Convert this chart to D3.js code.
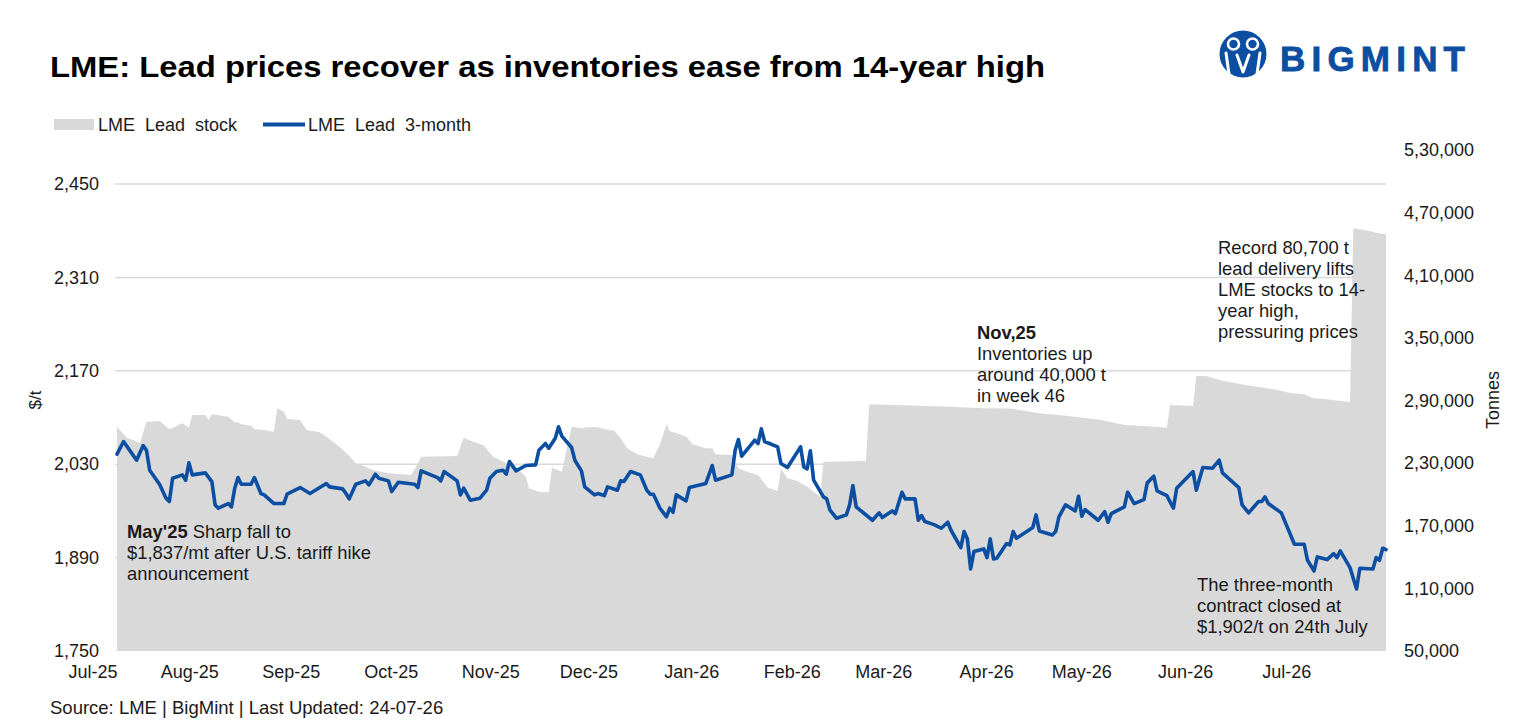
<!DOCTYPE html>
<html>
<head>
<meta charset="utf-8">
<script src="https://cdn.jsdelivr.net/npm/d3@7"></script>
<style>
  html, body { margin: 0; padding: 0; background: #ffffff; }
  svg { display: block; font-family: "Liberation Sans", Arial, sans-serif; }
</style>
</head>
<body>
<svg id="chart" width="1523" height="724"></svg>
<script>
// ---------------- DATA ----------------
const priceDates = [
  "2025-07-01","2025-07-03","2025-07-05","2025-07-07","2025-07-09","2025-07-10","2025-07-11","2025-07-14","2025-07-16","2025-07-17",
  "2025-07-18","2025-07-21","2025-07-22","2025-07-23","2025-07-24","2025-07-28","2025-07-30","2025-07-31","2025-08-01","2025-08-04",
  "2025-08-05","2025-08-06","2025-08-07","2025-08-08","2025-08-11","2025-08-12","2025-08-14","2025-08-15","2025-08-18","2025-08-21",
  "2025-08-22","2025-08-26","2025-08-29","2025-09-01","2025-09-03","2025-09-04","2025-09-08","2025-09-09","2025-09-10","2025-09-12",
  "2025-09-15","2025-09-16","2025-09-18","2025-09-19","2025-09-22","2025-09-23","2025-09-25","2025-09-30","2025-10-01","2025-10-02",
  "2025-10-07","2025-10-08","2025-10-09","2025-10-13","2025-10-14","2025-10-15","2025-10-17","2025-10-20","2025-10-22","2025-10-23",
  "2025-10-25","2025-10-27","2025-10-28","2025-10-29","2025-10-31","2025-11-03","2025-11-06","2025-11-07","2025-11-09","2025-11-10",
  "2025-11-12","2025-11-13","2025-11-14","2025-11-17","2025-11-18","2025-11-20","2025-11-21","2025-11-24","2025-11-25","2025-11-27",
  "2025-11-28","2025-12-01","2025-12-02","2025-12-03","2025-12-05","2025-12-08","2025-12-10","2025-12-11","2025-12-12","2025-12-14",
  "2025-12-16","2025-12-17","2025-12-18","2025-12-19","2025-12-22","2025-12-23","2025-12-28","2025-12-30","2025-12-31","2026-01-05",
  "2026-01-06","2026-01-07","2026-01-08","2026-01-12","2026-01-13","2026-01-14","2026-01-15","2026-01-19","2026-01-20","2026-01-22",
  "2026-01-26","2026-01-27","2026-01-28","2026-01-29","2026-01-30","2026-02-02","2026-02-03","2026-02-04","2026-02-06","2026-02-09",
  "2026-02-10","2026-02-11","2026-02-12","2026-02-17","2026-02-19","2026-02-20","2026-02-23","2026-02-24","2026-02-26","2026-02-27",
  "2026-03-02","2026-03-03","2026-03-04","2026-03-05","2026-03-08","2026-03-10","2026-03-12","2026-03-13","2026-03-16","2026-03-17",
  "2026-03-18","2026-03-19","2026-03-20","2026-03-23","2026-03-24","2026-03-25","2026-03-26","2026-03-27","2026-03-30","2026-03-31",
  "2026-04-01","2026-04-02","2026-04-07","2026-04-08","2026-04-09","2026-04-13","2026-04-14","2026-04-15","2026-04-17","2026-04-20",
  "2026-04-21","2026-04-22","2026-04-23","2026-04-27","2026-04-29","2026-04-30","2026-05-01","2026-05-05","2026-05-06","2026-05-08",
  "2026-05-11","2026-05-12","2026-05-14","2026-05-15","2026-05-18","2026-05-20","2026-05-21","2026-05-23","2026-05-26","2026-05-27",
  "2026-05-29","2026-06-01","2026-06-03","2026-06-04","2026-06-09","2026-06-10","2026-06-12","2026-06-15","2026-06-16","2026-06-17",
  "2026-06-18","2026-06-22","2026-06-26","2026-06-29","2026-06-30","2026-07-02","2026-07-03","2026-07-06","2026-07-08","2026-07-09",
  "2026-07-10","2026-07-13","2026-07-15","2026-07-16","2026-07-20","2026-07-21","2026-07-22","2026-07-23","2026-07-24"
];
const priceValues = [
  2045,2064,2050,2036,2058,2051,2021,2000,1979,1974,
  2009,2014,2006,2032,2014,2017,2004,1969,1964,1971,
  1966,1994,2010,2000,2000,2010,1986,1984,1971,1971,
  1985,1995,1986,1995,2001,1996,1993,1986,1978,2000,
  2005,1999,2015,2009,2005,1989,2003,2000,1995,2020,
  2010,2005,2019,2005,1984,1994,1976,1979,1991,2009,
  2019,2021,2015,2034,2020,2028,2029,2051,2061,2054,
  2069,2086,2072,2055,2036,2020,1996,1984,1986,1983,
  1996,1991,2005,2004,2019,2014,1991,1985,1985,1964,
  1951,1964,1958,1984,1975,1995,2001,2028,2006,2014,
  2051,2067,2042,2066,2061,2083,2064,2056,2031,2025,
  2056,2026,2023,2050,2006,1981,1978,1961,1949,1954,
  1969,1998,1966,1946,1957,1950,1960,1956,1988,1978,
  1978,1946,1953,1944,1939,1934,1943,1931,1905,1929,
  1918,1873,1899,1903,1890,1918,1888,1889,1911,1909,
  1929,1919,1935,1954,1930,1924,1929,1951,1969,1960,
  1982,1952,1962,1946,1959,1943,1956,1966,1988,1971,
  1977,2002,2012,1990,1983,1964,1994,2004,2019,1991,
  2025,2024,2036,2017,1995,1969,1957,1974,1974,1981,
  1971,1957,1910,1910,1886,1870,1891,1887,1896,1890,
  1900,1875,1843,1874,1873,1890,1886,1904,1902
];

const stockDates = [
  "2025-07-01","2025-07-04","2025-07-06","2025-07-08","2025-07-10","2025-07-14","2025-07-17","2025-07-21","2025-07-23","2025-07-24",
  "2025-07-28","2025-07-29","2025-07-30","2025-08-04","2025-08-06","2025-08-07","2025-08-08","2025-08-11","2025-08-12","2025-08-15",
  "2025-08-18","2025-08-19","2025-08-21","2025-08-22","2025-08-26","2025-08-28","2025-09-01","2025-09-03","2025-09-07","2025-09-10",
  "2025-09-12","2025-09-15","2025-09-17","2025-09-22","2025-09-29","2025-10-01","2025-10-02","2025-10-13","2025-10-15","2025-10-18",
  "2025-10-21","2025-10-24","2025-10-27","2025-10-31","2025-11-03","2025-11-04","2025-11-07","2025-11-10","2025-11-11","2025-11-14",
  "2025-11-17","2025-11-20","2025-11-22","2025-11-25","2025-11-27","2025-11-30","2025-12-02","2025-12-04","2025-12-07","2025-12-10",
  "2025-12-12","2025-12-14","2025-12-16","2025-12-17","2025-12-20","2025-12-22","2025-12-24","2025-12-28","2025-12-30","2025-12-31",
  "2026-01-05","2026-01-07","2026-01-10","2026-01-13","2026-01-16","2026-01-19","2026-01-20","2026-01-22","2026-01-25","2026-01-28",
  "2026-02-01","2026-02-02","2026-02-15","2026-02-16","2026-03-13","2026-03-23","2026-03-31","2026-04-09","2026-04-15","2026-04-21",
  "2026-04-28","2026-05-05","2026-05-11","2026-05-18","2026-05-19","2026-05-26","2026-05-27","2026-05-30","2026-06-04","2026-06-11",
  "2026-06-21","2026-06-25","2026-06-29","2026-07-02","2026-07-06","2026-07-12","2026-07-13","2026-07-14","2026-07-20","2026-07-21",
  "2026-07-24"
];
const stockValues = [
  264600,254400,252200,249000,269700,270400,262400,268200,263900,276100,
  276100,271300,276800,274500,269100,269100,267200,265900,262400,261700,
  260100,282500,279300,272300,271300,261700,259500,255300,245700,237100,
  229800,226600,223400,220300,218600,229800,236200,236800,254400,250500,
  247400,236200,231400,226600,217000,205900,202600,202100,225600,221800,
  264900,263400,264300,264300,262400,261100,253800,244200,238500,236200,
  234600,248000,267200,260800,257600,255300,248000,244200,244200,238500,
  237800,225000,221200,218600,206500,203300,224400,215500,212900,207400,
  197800,231400,232000,286400,284100,282500,282300,277700,276100,273900,
  271300,266500,265600,263900,285700,284700,313500,313500,309000,304900,
  300100,296900,295900,292100,291200,288900,288900,455000,451700,450500,
  449200
];

const leftTicks  = [1750, 1890, 2030, 2170, 2310, 2450];
const rightTicks = [50000, 110000, 170000, 230000, 290000, 350000, 410000, 470000, 530000];
const xTickDates  = ["2025-07-01","2025-08-01","2025-09-01","2025-10-01","2025-11-01","2025-12-01","2026-01-01",
                     "2026-02-01","2026-03-01","2026-04-01","2026-05-01","2026-06-01","2026-07-01"];
const xTickLabels = ["Jul-25","Aug-25","Sep-25","Oct-25","Nov-25","Dec-25","Jan-26",
                     "Feb-26","Mar-26","Apr-26","May-26","Jun-26","Jul-26"];

const seriesNames = ["LME Lead stock", "LME Lead 3-month"];
const titleText  = "LME: Lead prices recover as inventories ease from 14-year high";
const sourceText = "Source: LME | BigMint | Last Updated: 24-07-26";

// ---------------- SETUP ----------------
const parse = d3.timeParse("%Y-%m-%d");
const price = priceDates.map((d, i) => ({ date: parse(d), value: priceValues[i] }));
const stock = stockDates.map((d, i) => ({ date: parse(d), value: stockValues[i] }));

const COL_LINE = "#0b4ea2";
const COL_AREA = "#d9d9d9";
const COL_TEXT = "#1a1a1a";

const svg = d3.select("#chart");

const x = d3.scaleTime()
  .domain([parse("2025-07-01"), parse("2026-07-24")])
  .range([117, 1386]);
const yL = d3.scaleLinear().domain([1750, 2450]).range([651, 184]);
const yR = d3.scaleLinear().domain([50000, 530000]).range([651, 150]);

const indian = d3.formatLocale({ decimal: ".", thousands: ",", grouping: [3, 2], currency: ["", ""] });
const fmtR = indian.format(",");
const fmtL = d3.format(",");

// ---------------- TITLE ----------------
svg.append("text")
  .attr("x", 50).attr("y", 77)
  .attr("font-size", 29).attr("font-weight", "bold")
  .attr("fill", "#000")
  .attr("textLength", 995).attr("lengthAdjust", "spacingAndGlyphs")
  .text(titleText);

// ---------------- LOGO ----------------
const logo = svg.append("g");
logo.append("circle").attr("cx", 1243).attr("cy", 54).attr("r", 23.5).attr("fill", COL_LINE);
logo.append("circle").attr("cx", 1233.5).attr("cy", 44).attr("r", 5.5)
  .attr("fill", COL_LINE).attr("stroke", "#fff").attr("stroke-width", 2.6);
logo.append("circle").attr("cx", 1252.5).attr("cy", 44).attr("r", 5.5)
  .attr("fill", COL_LINE).attr("stroke", "#fff").attr("stroke-width", 2.6);
logo.append("path")
  .attr("d", "M1226,53 L1229,74 M1237,55 L1243,72 L1249,55 M1260,53 L1257,74")
  .attr("fill", "none").attr("stroke", "#fff").attr("stroke-width", 3).attr("stroke-linecap", "round").attr("stroke-linejoin", "round");
logo.append("text")
  .attr("x", 1280).attr("y", 71)
  .attr("font-size", 35).attr("font-weight", "bold")
  .attr("fill", COL_LINE).attr("stroke", COL_LINE).attr("stroke-width", 0.8)
  .attr("textLength", 185).attr("lengthAdjust", "spacing")
  .text("BIGMINT");

// ---------------- LEGEND ----------------
const legend = svg.append("g").attr("font-size", 18).attr("fill", COL_TEXT).attr("word-spacing", 5);
legend.append("rect").attr("x", 54).attr("y", 119).attr("width", 40).attr("height", 11).attr("fill", COL_AREA);
legend.append("text").attr("x", 98).attr("y", 124.5).attr("dominant-baseline", "central").text(seriesNames[0]);
legend.append("line").attr("x1", 263).attr("x2", 305).attr("y1", 124.5).attr("y2", 124.5)
  .attr("stroke", COL_LINE).attr("stroke-width", 4);
legend.append("text").attr("x", 308).attr("y", 124.5).attr("dominant-baseline", "central").text(seriesNames[1]);

// ---------------- GRIDLINES ----------------
svg.append("g")
  .selectAll("line")
  .data(leftTicks.filter(t => t !== 1750))
  .join("line")
  .attr("x1", 115).attr("x2", 1386)
  .attr("y1", d => yL(d)).attr("y2", d => yL(d))
  .attr("stroke", "#d9d9d9").attr("stroke-width", 1.5);

// ---------------- AREA (stock, right axis) ----------------
const area = d3.area()
  .x(d => x(d.date))
  .y0(yR(50000))
  .y1(d => yR(d.value));
svg.append("path").datum(stock).attr("d", area).attr("fill", COL_AREA);

// ---------------- LINE (price, left axis) ----------------
const line = d3.line()
  .x(d => x(d.date))
  .y(d => yL(d.value));
svg.append("path").datum(price).attr("d", line)
  .attr("fill", "none").attr("stroke", COL_LINE).attr("stroke-width", 3.6)
  .attr("stroke-linejoin", "round").attr("stroke-linecap", "round");

// ---------------- AXES ----------------
const gx = svg.append("g")
  .attr("transform", "translate(0,651)")
  .call(d3.axisBottom(x).tickValues(xTickDates.map(parse))
        .tickFormat((d, i) => xTickLabels[i]).tickSize(0).tickPadding(14));
gx.select(".domain").remove();
gx.selectAll("text").attr("text-anchor", "end").attr("font-size", 18)
  .attr("font-family", "'Liberation Sans', Arial, sans-serif").attr("fill", COL_TEXT);

const gl = svg.append("g")
  .attr("transform", "translate(117,0)")
  .call(d3.axisLeft(yL).tickValues(leftTicks).tickFormat(fmtL).tickSize(0).tickPadding(18));
gl.select(".domain").remove();
gl.selectAll("text").attr("font-size", 18)
  .attr("font-family", "'Liberation Sans', Arial, sans-serif").attr("fill", COL_TEXT);

const gr = svg.append("g")
  .attr("transform", "translate(1386,0)")
  .call(d3.axisRight(yR).tickValues(rightTicks).tickFormat(fmtR).tickSize(0).tickPadding(18));
gr.select(".domain").remove();
gr.selectAll("text").attr("font-size", 18)
  .attr("font-family", "'Liberation Sans', Arial, sans-serif").attr("fill", COL_TEXT);

// axis titles
svg.append("text")
  .attr("transform", "translate(41,400) rotate(-90)")
  .attr("text-anchor", "middle").attr("font-size", 17).attr("fill", COL_TEXT)
  .text("$/t");
svg.append("text")
  .attr("transform", "translate(1499,400) rotate(-90)")
  .attr("text-anchor", "middle").attr("font-size", 18).attr("fill", COL_TEXT)
  .text("Tonnes");

// ---------------- ANNOTATIONS ----------------
function annotate(x0, yFirst, lines) {
  const t = svg.append("text").attr("font-size", 18.4).attr("fill", COL_TEXT);
  lines.forEach((ln, i) => {
    const ts = t.append("tspan").attr("x", x0).attr("y", yFirst + i * 21);
    if (Array.isArray(ln)) {
      ts.append("tspan").attr("font-weight", "bold").text(ln[0]);
      ts.append("tspan").text(ln[1]);
    } else {
      ts.text(ln);
    }
  });
}
annotate(127, 538, [["May'25", " Sharp fall to"], "$1,837/mt after U.S. tariff hike", "announcement"]);
annotate(977, 339, [["Nov,25", ""], "Inventories up", "around 40,000 t", "in week 46"]);
annotate(1218, 254, ["Record 80,700 t", "lead delivery lifts", "LME stocks to 14-", "year high,", "pressuring prices"]);
annotate(1197, 591, ["The three-month", "contract closed at", "$1,902/t on 24th July"]);

// ---------------- SOURCE ----------------
svg.append("text")
  .attr("x", 50).attr("y", 714)
  .attr("font-size", 18.5).attr("fill", COL_TEXT)
  .text(sourceText);
</script>
</body>
</html>
